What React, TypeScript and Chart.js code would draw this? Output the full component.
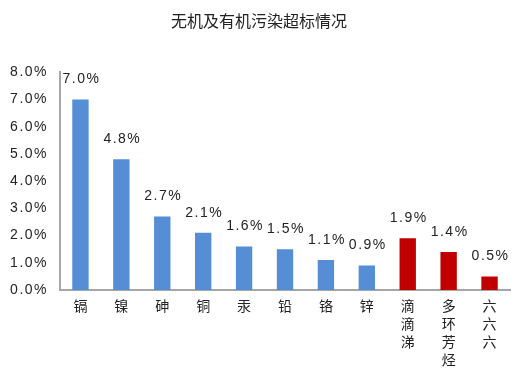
import React, { useEffect, useRef } from "react";
import { Chart, registerables } from "chart.js";

Chart.register(...registerables);

const TITLE = "无机及有机污染超标情况";
const categories: string[][] = [
  ["镉"], ["镍"], ["砷"], ["铜"], ["汞"], ["铅"], ["铬"], ["锌"],
  ["滴", "滴", "涕"], ["多", "环", "芳", "烃"], ["六", "六", "六"],
];
const values: number[] = [7.0, 4.8, 2.7, 2.1, 1.6, 1.5, 1.1, 0.9, 1.9, 1.4, 0.5];
const kinds: string[] = ["i", "i", "i", "i", "i", "i", "i", "i", "o", "o", "o"];
const Y_MAX = 8;
const Y_STEP = 1;

const BLUE = "#558ED5";
const RED = "#C00000";
const AXIS = "#A6A6A6";
const NUM_FONT = "14px 'Liberation Sans', Arial, sans-serif";

const labelPlugin = {
  id: "barLabels",
  afterDatasetsDraw(chart: any) {
    const ctx = chart.ctx;
    const meta = chart.getDatasetMeta(0);
    ctx.save();
    ctx.letterSpacing = "1.5px";
    ctx.font = NUM_FONT;
    ctx.fillStyle = "#222";
    ctx.textAlign = "center";
    ctx.textBaseline = "middle";
    meta.data.forEach((el: any, i: number) => {
      ctx.fillText(values[i].toFixed(1) + "%", el.x + 1, el.y - 20);
    });
    // y tick labels
    const ys = chart.scales.y;
    ctx.letterSpacing = "1.5px";
    ctx.textAlign = "right";
    ys.ticks.forEach((t: any) => {
      const y = ys.getPixelForValue(t.value);
      ctx.fillText(Number(t.value).toFixed(1) + "%", ys.right - 12, y);
    });
    ctx.restore();
  },
};

export default function App() {
  const ref = useRef<HTMLCanvasElement>(null);
  useEffect(() => {
    const chart = new Chart(ref.current as HTMLCanvasElement, {
      type: "bar",
      data: {
        labels: categories,
        datasets: [
          {
            data: values,
            backgroundColor: kinds.map((k) => (k === "i" ? BLUE : RED)),
            barPercentage: 0.4,
            categoryPercentage: 1,
          },
        ],
      },
      options: {
        animation: false,
        responsive: false,
        maintainAspectRatio: false,
        layout: { padding: { left: 8, right: 7, top: 0, bottom: 4 } },
        plugins: {
          legend: { display: false },
          tooltip: { enabled: false },
          title: {
            display: true,
            text: TITLE,
            color: "#222",
            font: { family: "'Noto Sans CJK SC', sans-serif", size: 16, weight: "normal" },
            padding: { top: 11, bottom: 42 },
          },
        },
        scales: {
          x: {
            grid: { display: false, drawTicks: false },
            border: { color: AXIS, width: 2 },
            afterFit: (scale: any) => {
              scale.height = 80;
            },
            ticks: {
              color: "#222",
              maxRotation: 0,
              autoSkip: false,
              padding: 7,
              font: { family: "'Noto Sans CJK SC', serif", size: 14, lineHeight: "18px" },
            },
          },
          y: {
            min: 0,
            max: Y_MAX,
            grid: { display: false, drawTicks: false },
            border: { color: AXIS, width: 2 },
            afterFit: (scale: any) => {
              scale.width = 52;
            },
            ticks: {
              stepSize: Y_STEP,
              display: false,
            },
          },
        },
      },
      plugins: [labelPlugin],
    });
    return () => chart.destroy();
  }, []);
  return (
    <div style={{ position: "absolute", left: 0, top: 0, width: 517, height: 374, background: "#fff" }}>
      <canvas ref={ref} width={517} height={374} />
    </div>
  );
}
